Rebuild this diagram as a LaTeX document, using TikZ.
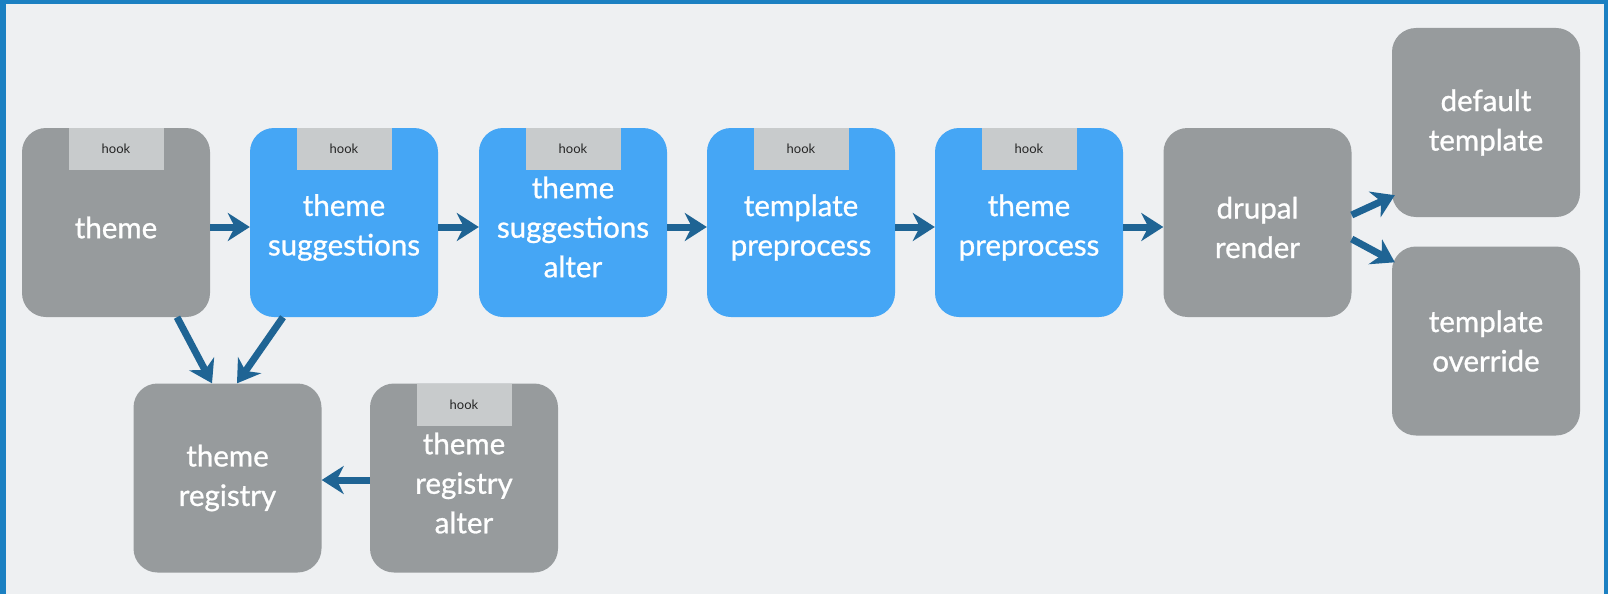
\documentclass[tikz,border=0pt]{standalone}
\usepackage{fontspec}
\setmainfont{Lato}
\newfontfamily\lblfont[FakeBold=0.9]{Lato}
\usetikzlibrary{arrows.meta}
\definecolor{bg}{HTML}{EEF0F2}
\definecolor{framecol}{HTML}{1B80C2}
\definecolor{boxgray}{HTML}{979B9D}
\definecolor{boxblue}{HTML}{45A6F5}
\definecolor{hookgray}{HTML}{C8CBCC}
\definecolor{arrowblue}{HTML}{1F6494}
\begin{document}
\begin{tikzpicture}[x=1pt,y=-1pt,
  box/.style={rounded corners=24pt, minimum width=188pt, minimum height=189pt, inner sep=0pt},
  graybox/.style={box, fill=boxgray},
  bluebox/.style={box, fill=boxblue},
  lbl/.style={text=white, font=\lblfont\fontsize{29.5}{39.5}\selectfont, align=center, inner sep=0pt},
  hooktab/.style={fill=hookgray, minimum width=95pt, minimum height=42pt, inner sep=0pt, font=\fontsize{13}{13}\selectfont, text=black!85},
  flow/.style={arrowblue, line width=7pt, -{Stealth[length=22pt,width=28pt,inset=7pt]}}
]
\fill[framecol] (0,0) rectangle (1608,594);
\fill[bg] (6,4) rectangle (1604,594);
\useasboundingbox (0,0) rectangle (1608,594);

% boxes
\node[graybox] (theme) at (116,222.5) {};
\node[bluebox] (sugg) at (344,222.5) {};
\node[bluebox] (alter) at (573,222.5) {};
\node[bluebox] (tpre) at (801,222.5) {};
\node[bluebox] (thpre) at (1029,222.5) {};
\node[graybox] (drupal) at (1257.5,222.5) {};
\node[graybox] (default) at (1486,122.5) {};
\node[graybox] (override) at (1486,341) {};
\node[graybox] (registry) at (227.5,478) {};
\node[graybox] (regalter) at (464,478) {};

% hook tabs
\node[hooktab, anchor=north] (themeH) at (theme.north) {hook};
\node[hooktab, anchor=north] (suggH) at (sugg.north) {hook};
\node[hooktab, anchor=north] (alterH) at (alter.north) {hook};
\node[hooktab, anchor=north] (tpreH) at (tpre.north) {hook};
\node[hooktab, anchor=north] (thpreH) at (thpre.north) {hook};
\node[hooktab, anchor=north] (regalterH) at (regalter.north) {hook};

% labels
\node[lbl] (themeL) at ([yshift=-5pt]theme.center) {theme};
\node[lbl] (suggL) at ([yshift=-5pt]sugg.center) {theme\\suggestions};
\node[lbl] (alterL) at ([yshift=-4.5pt]alter.center) {theme\\suggestions\\alter};
\node[lbl] (tpreL) at ([yshift=-5pt]tpre.center) {template\\preprocess};
\node[lbl] (thpreL) at ([yshift=-5pt]thpre.center) {theme\\preprocess};
\node[lbl] (drupalL) at ([yshift=-5pt]drupal.center) {drupal\\render};
\node[lbl] (defaultL) at (default.center) {default\\template};
\node[lbl] (overrideL) at (override.center) {template\\override};
\node[lbl] (registryL) at (registry.center) {theme\\registry};
\node[lbl] (regalterL) at ([yshift=-5pt]regalter.center) {theme\\registry\\alter};

% connectors
\draw[flow] ([yshift=-4.5pt]theme.east) -- ([yshift=-4.5pt]sugg.west);
\draw[flow] ([yshift=-4.5pt]sugg.east) -- ([yshift=-4.5pt]alter.west);
\draw[flow] ([yshift=-4.5pt]alter.east) -- ([yshift=-4.5pt]tpre.west);
\draw[flow] ([yshift=-4.5pt]tpre.east) -- ([yshift=-4.5pt]thpre.west);
\draw[flow] ([yshift=-4.5pt]thpre.east) -- ([yshift=-4.5pt]drupal.west);
\draw[flow] ([yshift=7.5pt]drupal.east) -- ([yshift=22pt,xshift=3pt]default.south west);
\draw[flow] ([yshift=-16.5pt]drupal.east) -- ([yshift=-16pt,xshift=3pt]override.north west);
\draw[flow] ([xshift=61pt]theme.south) -- ([xshift=-15.5pt]registry.north);
\draw[flow] ([xshift=-61pt]sugg.south) -- ([xshift=9.5pt]registry.north);
\draw[flow] ([yshift=-2pt]regalter.west) -- ([yshift=-2pt]registry.east);
\end{tikzpicture}
\end{document}
